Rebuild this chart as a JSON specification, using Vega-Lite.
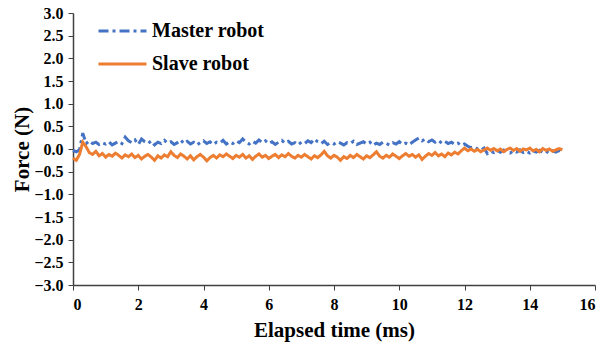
{
  "$schema": "https://vega.github.io/schema/vega-lite/v6.json",
  "width": 522,
  "height": 272,
  "autosize": {"type": "none"},
  "padding": {"left": 73, "top": 13, "right": 16, "bottom": 65},
  "background": "white",
  "config": {
    "view": {"stroke": null},
    "font": "Liberation Serif"
  },
  "data": {
    "values": [
      {"time":0.0,"Master robot":-0.03,"Slave robot":-0.20},
      {"time":0.1,"Master robot":-0.06,"Slave robot":-0.25},
      {"time":0.2,"Master robot":-0.02,"Slave robot":-0.12},
      {"time":0.3,"Master robot":0.35,"Slave robot":0.15},
      {"time":0.4,"Master robot":0.12,"Slave robot":0.05},
      {"time":0.5,"Master robot":0.18,"Slave robot":-0.08},
      {"time":0.6,"Master robot":0.12,"Slave robot":-0.12},
      {"time":0.7,"Master robot":0.15,"Slave robot":-0.05},
      {"time":0.8,"Master robot":0.10,"Slave robot":-0.15},
      {"time":0.9,"Master robot":0.14,"Slave robot":-0.10},
      {"time":1.0,"Master robot":0.11,"Slave robot":-0.18},
      {"time":1.1,"Master robot":0.16,"Slave robot":-0.12},
      {"time":1.2,"Master robot":0.09,"Slave robot":-0.16},
      {"time":1.3,"Master robot":0.13,"Slave robot":-0.09},
      {"time":1.4,"Master robot":0.17,"Slave robot":-0.14},
      {"time":1.5,"Master robot":0.12,"Slave robot":-0.20},
      {"time":1.6,"Master robot":0.26,"Slave robot":-0.13},
      {"time":1.7,"Master robot":0.18,"Slave robot":-0.17},
      {"time":1.8,"Master robot":0.14,"Slave robot":-0.11},
      {"time":1.9,"Master robot":0.20,"Slave robot":-0.19},
      {"time":2.0,"Master robot":0.10,"Slave robot":-0.14},
      {"time":2.1,"Master robot":0.22,"Slave robot":-0.22},
      {"time":2.2,"Master robot":0.16,"Slave robot":-0.16},
      {"time":2.3,"Master robot":0.12,"Slave robot":-0.12},
      {"time":2.4,"Master robot":0.18,"Slave robot":-0.18},
      {"time":2.5,"Master robot":0.09,"Slave robot":-0.25},
      {"time":2.6,"Master robot":0.15,"Slave robot":-0.15},
      {"time":2.7,"Master robot":0.12,"Slave robot":-0.20},
      {"time":2.8,"Master robot":0.19,"Slave robot":-0.13},
      {"time":2.9,"Master robot":0.13,"Slave robot":-0.17},
      {"time":3.0,"Master robot":0.16,"Slave robot":-0.06},
      {"time":3.1,"Master robot":0.10,"Slave robot":-0.14},
      {"time":3.2,"Master robot":0.14,"Slave robot":-0.19},
      {"time":3.3,"Master robot":0.20,"Slave robot":-0.11},
      {"time":3.4,"Master robot":0.12,"Slave robot":-0.16},
      {"time":3.5,"Master robot":0.17,"Slave robot":-0.22},
      {"time":3.6,"Master robot":0.11,"Slave robot":-0.15},
      {"time":3.7,"Master robot":0.15,"Slave robot":-0.24},
      {"time":3.8,"Master robot":0.09,"Slave robot":-0.17},
      {"time":3.9,"Master robot":0.14,"Slave robot":-0.12},
      {"time":4.0,"Master robot":0.18,"Slave robot":-0.18},
      {"time":4.1,"Master robot":0.12,"Slave robot":-0.26},
      {"time":4.2,"Master robot":0.16,"Slave robot":-0.19},
      {"time":4.3,"Master robot":0.10,"Slave robot":-0.14},
      {"time":4.4,"Master robot":0.15,"Slave robot":-0.20},
      {"time":4.5,"Master robot":0.13,"Slave robot":-0.13},
      {"time":4.6,"Master robot":0.19,"Slave robot":-0.17},
      {"time":4.7,"Master robot":0.11,"Slave robot":-0.11},
      {"time":4.8,"Master robot":0.16,"Slave robot":-0.16},
      {"time":4.9,"Master robot":0.12,"Slave robot":-0.21},
      {"time":5.0,"Master robot":0.18,"Slave robot":-0.14},
      {"time":5.1,"Master robot":0.14,"Slave robot":-0.18},
      {"time":5.2,"Master robot":0.22,"Slave robot":-0.12},
      {"time":5.3,"Master robot":0.15,"Slave robot":-0.20},
      {"time":5.4,"Master robot":0.11,"Slave robot":-0.15},
      {"time":5.5,"Master robot":0.17,"Slave robot":-0.23},
      {"time":5.6,"Master robot":0.13,"Slave robot":-0.16},
      {"time":5.7,"Master robot":0.20,"Slave robot":-0.11},
      {"time":5.8,"Master robot":0.14,"Slave robot":-0.18},
      {"time":5.9,"Master robot":0.18,"Slave robot":-0.14},
      {"time":6.0,"Master robot":0.12,"Slave robot":-0.21},
      {"time":6.1,"Master robot":0.16,"Slave robot":-0.16},
      {"time":6.2,"Master robot":0.10,"Slave robot":-0.12},
      {"time":6.3,"Master robot":0.15,"Slave robot":-0.19},
      {"time":6.4,"Master robot":0.19,"Slave robot":-0.13},
      {"time":6.5,"Master robot":0.13,"Slave robot":-0.17},
      {"time":6.6,"Master robot":0.17,"Slave robot":-0.10},
      {"time":6.7,"Master robot":0.11,"Slave robot":-0.16},
      {"time":6.8,"Master robot":0.14,"Slave robot":-0.20},
      {"time":6.9,"Master robot":0.09,"Slave robot":-0.14},
      {"time":7.0,"Master robot":0.15,"Slave robot":-0.18},
      {"time":7.1,"Master robot":0.12,"Slave robot":-0.12},
      {"time":7.2,"Master robot":0.18,"Slave robot":-0.17},
      {"time":7.3,"Master robot":0.14,"Slave robot":-0.22},
      {"time":7.4,"Master robot":0.22,"Slave robot":-0.15},
      {"time":7.5,"Master robot":0.16,"Slave robot":-0.19},
      {"time":7.6,"Master robot":0.12,"Slave robot":-0.13},
      {"time":7.7,"Master robot":0.17,"Slave robot":-0.05},
      {"time":7.8,"Master robot":0.10,"Slave robot":-0.15},
      {"time":7.9,"Master robot":0.14,"Slave robot":-0.20},
      {"time":8.0,"Master robot":0.11,"Slave robot":-0.14},
      {"time":8.1,"Master robot":0.16,"Slave robot":-0.18},
      {"time":8.2,"Master robot":0.13,"Slave robot":-0.25},
      {"time":8.3,"Master robot":0.09,"Slave robot":-0.17},
      {"time":8.4,"Master robot":0.14,"Slave robot":-0.21},
      {"time":8.5,"Master robot":0.12,"Slave robot":-0.14},
      {"time":8.6,"Master robot":0.17,"Slave robot":-0.19},
      {"time":8.7,"Master robot":0.10,"Slave robot":-0.12},
      {"time":8.8,"Master robot":0.13,"Slave robot":-0.17},
      {"time":8.9,"Master robot":0.16,"Slave robot":-0.22},
      {"time":9.0,"Master robot":0.11,"Slave robot":-0.15},
      {"time":9.1,"Master robot":0.15,"Slave robot":-0.19},
      {"time":9.2,"Master robot":0.08,"Slave robot":-0.13},
      {"time":9.3,"Master robot":0.13,"Slave robot":-0.06},
      {"time":9.4,"Master robot":0.10,"Slave robot":-0.16},
      {"time":9.5,"Master robot":0.15,"Slave robot":-0.20},
      {"time":9.6,"Master robot":0.12,"Slave robot":-0.14},
      {"time":9.7,"Master robot":0.09,"Slave robot":-0.18},
      {"time":9.8,"Master robot":0.14,"Slave robot":-0.11},
      {"time":9.9,"Master robot":0.11,"Slave robot":-0.16},
      {"time":10.0,"Master robot":0.16,"Slave robot":-0.21},
      {"time":10.1,"Master robot":0.10,"Slave robot":-0.15},
      {"time":10.2,"Master robot":0.13,"Slave robot":-0.10},
      {"time":10.3,"Master robot":0.09,"Slave robot":-0.16},
      {"time":10.4,"Master robot":0.15,"Slave robot":-0.12},
      {"time":10.5,"Master robot":0.20,"Slave robot":-0.18},
      {"time":10.6,"Master robot":0.24,"Slave robot":-0.13},
      {"time":10.7,"Master robot":0.18,"Slave robot":-0.23},
      {"time":10.8,"Master robot":0.22,"Slave robot":-0.16},
      {"time":10.9,"Master robot":0.16,"Slave robot":-0.10},
      {"time":11.0,"Master robot":0.20,"Slave robot":-0.14},
      {"time":11.1,"Master robot":0.15,"Slave robot":-0.08},
      {"time":11.2,"Master robot":0.19,"Slave robot":-0.15},
      {"time":11.3,"Master robot":0.13,"Slave robot":-0.11},
      {"time":11.4,"Master robot":0.17,"Slave robot":-0.17},
      {"time":11.5,"Master robot":0.12,"Slave robot":-0.09},
      {"time":11.6,"Master robot":0.15,"Slave robot":-0.13},
      {"time":11.7,"Master robot":0.10,"Slave robot":-0.07},
      {"time":11.8,"Master robot":0.13,"Slave robot":-0.11},
      {"time":11.9,"Master robot":0.08,"Slave robot":-0.04},
      {"time":12.0,"Master robot":0.11,"Slave robot":0.02},
      {"time":12.1,"Master robot":0.06,"Slave robot":-0.04},
      {"time":12.2,"Master robot":0.03,"Slave robot":0.00},
      {"time":12.3,"Master robot":0.05,"Slave robot":-0.05},
      {"time":12.4,"Master robot":0.00,"Slave robot":-0.01},
      {"time":12.5,"Master robot":-0.03,"Slave robot":-0.06},
      {"time":12.6,"Master robot":0.02,"Slave robot":-0.02},
      {"time":12.7,"Master robot":-0.10,"Slave robot":0.02},
      {"time":12.8,"Master robot":-0.05,"Slave robot":-0.03},
      {"time":12.9,"Master robot":-0.08,"Slave robot":0.01},
      {"time":13.0,"Master robot":-0.03,"Slave robot":-0.04},
      {"time":13.1,"Master robot":-0.07,"Slave robot":0.00},
      {"time":13.2,"Master robot":-0.02,"Slave robot":-0.06},
      {"time":13.3,"Master robot":-0.06,"Slave robot":-0.01},
      {"time":13.4,"Master robot":-0.09,"Slave robot":0.02},
      {"time":13.5,"Master robot":-0.04,"Slave robot":-0.03},
      {"time":13.6,"Master robot":-0.07,"Slave robot":0.01},
      {"time":13.7,"Master robot":-0.02,"Slave robot":-0.05},
      {"time":13.8,"Master robot":-0.08,"Slave robot":0.00},
      {"time":13.9,"Master robot":-0.05,"Slave robot":-0.02},
      {"time":14.0,"Master robot":-0.09,"Slave robot":0.02},
      {"time":14.1,"Master robot":-0.04,"Slave robot":-0.04},
      {"time":14.2,"Master robot":-0.07,"Slave robot":-0.01},
      {"time":14.3,"Master robot":-0.03,"Slave robot":-0.06},
      {"time":14.4,"Master robot":-0.08,"Slave robot":0.01},
      {"time":14.5,"Master robot":-0.05,"Slave robot":-0.03},
      {"time":14.6,"Master robot":-0.10,"Slave robot":0.00},
      {"time":14.7,"Master robot":-0.04,"Slave robot":-0.05},
      {"time":14.8,"Master robot":-0.07,"Slave robot":-0.02},
      {"time":14.9,"Master robot":-0.03,"Slave robot":0.01},
      {"time":15.0,"Master robot":-0.05,"Slave robot":-0.02}
    ]
  },
  "transform": [
    {"fold": ["Master robot", "Slave robot"], "as": ["series", "force"]}
  ],
  "mark": {"type": "line", "strokeWidth": 3, "interpolate": "linear"},
  "encoding": {
    "x": {
      "field": "time", "type": "quantitative",
      "scale": {"domain": [0, 16], "nice": false, "zero": false},
      "axis": {
        "title": "Elapsed time (ms)",
        "values": [0, 2, 4, 6, 8, 10, 12, 14, 16],
        "format": "d",
        "grid": false,
        "domainColor": "#404040",
        "domainWidth": 1.5,
        "tickColor": "#404040",
        "tickSize": 5,
        "labelFont": "Liberation Serif",
        "labelFontWeight": "bold",
        "labelFontSize": 16,
        "labelColor": "black",
        "labelPadding": 6,
        "titleFont": "Liberation Serif",
        "titleFontWeight": "bold",
        "titleFontSize": 21,
        "titleColor": "black",
        "titlePadding": 7
      }
    },
    "y": {
      "field": "force", "type": "quantitative",
      "scale": {"domain": [-3, 3], "nice": false, "zero": false},
      "axis": {
        "title": "Force  (N)",
        "values": [-3, -2.5, -2, -1.5, -1, -0.5, 0, 0.5, 1, 1.5, 2, 2.5, 3],
        "format": ".1f",
        "grid": false,
        "domainColor": "#404040",
        "domainWidth": 1.5,
        "tickColor": "#404040",
        "tickSize": 5,
        "labelFont": "Liberation Serif",
        "labelFontWeight": "bold",
        "labelFontSize": 16,
        "labelColor": "black",
        "labelPadding": 5,
        "titleFont": "Liberation Serif",
        "titleFontWeight": "bold",
        "titleFontSize": 21,
        "titleColor": "black",
        "titlePadding": 1
      }
    },
    "color": {
      "field": "series", "type": "nominal",
      "scale": {"domain": ["Master robot", "Slave robot"], "range": ["#4472C4", "#ED7D31"]},
      "legend": {
        "title": null,
        "orient": "none",
        "legendX": 24,
        "legendY": 8,
        "symbolType": "stroke",
        "symbolStrokeWidth": 3,
        "symbolSize": 2304,
        "clipHeight": 20,
        "labelFont": "Liberation Serif",
        "labelFontWeight": "bold",
        "labelFontSize": 20,
        "labelColor": "black",
        "labelOffset": 4,
        "rowPadding": 13
      }
    },
    "strokeDash": {
      "field": "series", "type": "nominal",
      "scale": {"domain": ["Master robot", "Slave robot"], "range": [[10, 4, 3, 4], [1, 0]]},
      "legend": null
    }
  }
}
